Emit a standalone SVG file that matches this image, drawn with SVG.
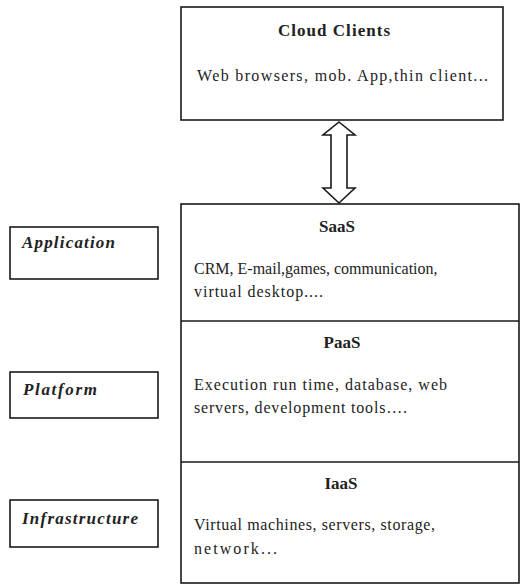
<svg xmlns="http://www.w3.org/2000/svg" width="520" height="584" viewBox="0 0 520 584">
<style>
.box{fill:#fff;stroke:#1a1a1a;stroke-width:1.6}
.t{font-family:"Liberation Serif","Times New Roman",serif;font-size:16px;fill:#222}
.h{font-weight:bold;font-size:17px;text-anchor:middle}
.s{font-weight:bold;font-style:italic;font-size:17px}
</style>
<rect width="520" height="584" fill="#fff"/>
<g id="cloud-clients">
<rect class="box" x="181" y="7" width="322" height="113"/>
<text class="t h" x="334" y="36" textLength="112" lengthAdjust="spacing">Cloud Clients</text>
<text class="t" x="197" y="81" textLength="291" lengthAdjust="spacing">Web browsers, mob. App,thin client...</text>
</g>
<g id="connectors">
<polygon class="box" points="339,122 355,135 347,135 347,188 355,188 339,203 323,188 331,188 331,135 323,135"/>
</g>
<g id="stack">
<rect class="box" x="181" y="204" width="338" height="379"/>
<line class="box" x1="181" y1="321" x2="519" y2="321"/>
<line class="box" x1="181" y1="462" x2="519" y2="462"/>
</g>
<g id="saas">
<text class="t h" x="337" y="232">SaaS</text>
<text class="t" x="194" y="274">CRM, E-mail,games, communication,</text>
<text class="t" x="194" y="297" textLength="129" lengthAdjust="spacing">virtual desktop....</text>
</g>
<g id="paas">
<text class="t h" x="342" y="348">PaaS</text>
<text class="t" x="194" y="390" textLength="253" lengthAdjust="spacing">Execution run time, database, web</text>
<text class="t" x="194" y="413" textLength="213" lengthAdjust="spacing">servers, development tools….</text>
</g>
<g id="iaas">
<text class="t h" x="341" y="489">IaaS</text>
<text class="t" x="194" y="530" textLength="241" lengthAdjust="spacing">Virtual machines, servers, storage,</text>
<text class="t" x="194" y="554" textLength="83" lengthAdjust="spacing">network...</text>
</g>
<g id="application">
<rect class="box" x="10" y="227" width="148" height="52"/>
<text class="t s" x="22" y="248" textLength="93" lengthAdjust="spacing">Application</text>
</g>
<g id="platform">
<rect class="box" x="10" y="372" width="148" height="46"/>
<text class="t s" x="23" y="395" textLength="74" lengthAdjust="spacing">Platform</text>
</g>
<g id="infrastructure">
<rect class="box" x="10" y="500" width="148" height="47"/>
<text class="t s" x="22" y="524" textLength="116" lengthAdjust="spacing">Infrastructure</text>
</g>
</svg>
